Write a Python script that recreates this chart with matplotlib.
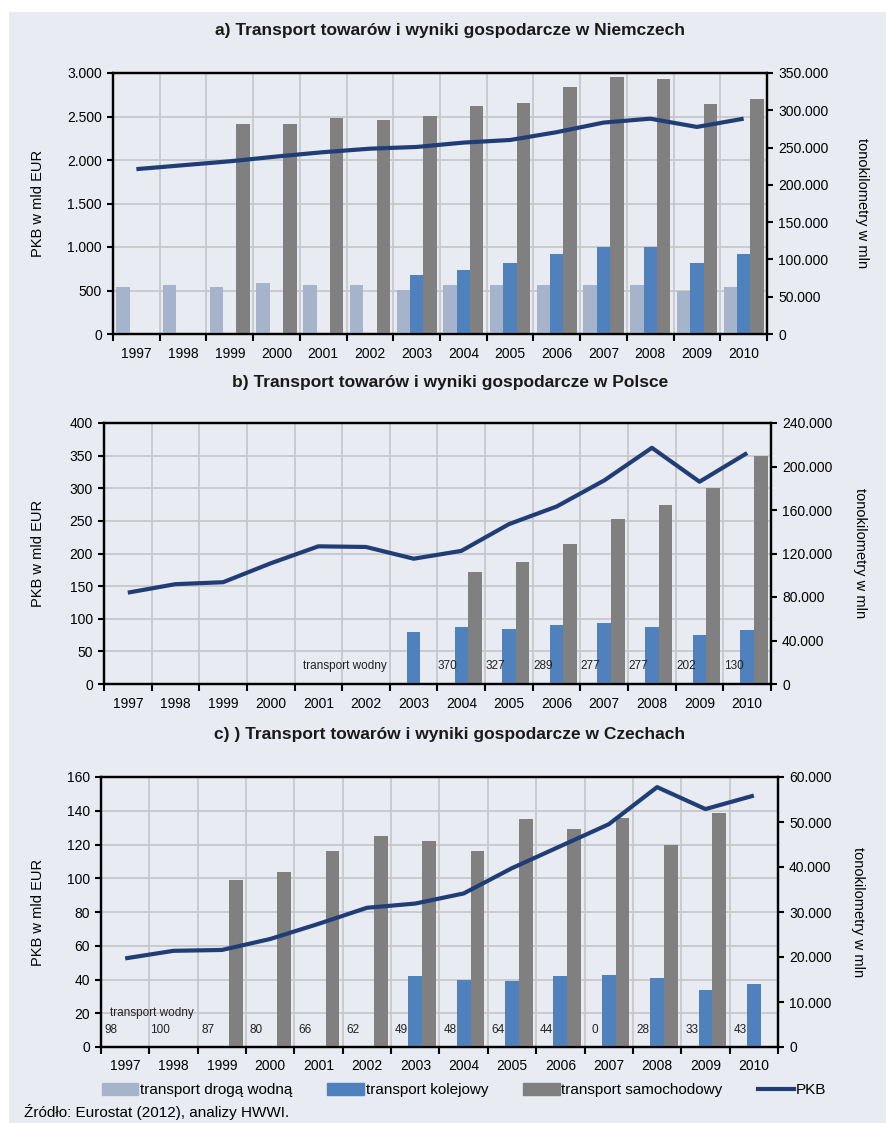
import matplotlib
matplotlib.use("Agg")
import matplotlib.pyplot as plt
import matplotlib.ticker as mticker
import matplotlib.patches as mpatches
import matplotlib.lines as mlines
import matplotlib.transforms as mtransforms
import numpy as np

plt.rcParams['font.family'] = ['Liberation Sans', 'DejaVu Sans']

nan = np.nan
years = [str(y) for y in range(1997, 2011)]

# a) Niemcy - tonokilometry w mln (prawa oś), PKB w mld EUR (lewa oś)
de_water = [63600, 65900, 63600, 68300, 65900, 65900, 58900, 65900, 65900, 65900, 65900, 65900, 57200, 63600]
de_rail = [nan, nan, nan, nan, nan, nan, 79300, 86300, 95700, 107300, 116700, 116700, 95700, 107300]
de_road = [nan, nan, 281200, 281200, 289300, 287000, 291700, 305700, 310300, 331300, 344200, 341800, 308000, 315000]
de_gdp = [1895, 1940, 1985, 2040, 2090, 2130, 2150, 2200, 2230, 2320, 2430, 2475, 2380, 2475]

# b) Polska
pl_water = [nan, nan, nan, nan, nan, nan, nan, 370, 327, 289, 277, 277, 202, 130]
pl_rail = [nan, nan, nan, nan, nan, nan, 48000, 52800, 51000, 54000, 55800, 52800, 45000, 49200]
pl_road = [nan, nan, nan, nan, nan, nan, nan, 102600, 112200, 128400, 151800, 164400, 180000, 210000]
pl_gdp = [140, 153, 156, 185, 211, 210, 192, 204, 245, 272, 312, 362, 310, 354]

# c) Czechy
cz_water = [98, 100, 87, 80, 66, 62, 49, 48, 64, 44, 0, 28, 33, 43]
cz_rail = [nan, nan, nan, nan, nan, nan, 15750, 15000, 14600, 15750, 16100, 15400, 12750, 13900]
cz_road = [nan, nan, 37100, 39000, 43500, 46900, 45750, 43500, 50600, 48400, 51000, 45000, 52100, nan]
cz_gdp = [52.5, 57, 57.5, 64, 73, 82.5, 85, 91, 106, 119, 132, 154, 141, 149]

BG = '#e8ebf1'
C_WATER = '#a6b4cb'
C_RAIL = '#4f81bd'
C_ROAD = '#808080'
C_GDP = '#213d76'
GRID = '#c6c8cc'

W, H = 886, 1123


def dots(v, pos):
    return f"{int(round(v)):,}".replace(",", ".")


def panel(box, title, title_y, water, rail, road, gdp, gmax, gstep, tmax, tstep,
          lab_l, lab_r, wlabels=False, wl_pos=None, wl_y=None):
    x0, y0, x1, y1 = box
    ax = fig.add_axes([x0 / W, 1 - y1 / H, (x1 - x0) / W, (y1 - y0) / H])
    ax.set_facecolor(BG)
    axb = ax.twinx()
    x = np.arange(len(years))
    w = 1 / 3.5
    axb.bar(x - w, water, w, color=C_WATER)
    axb.bar(x, rail, w, color=C_RAIL)
    axb.bar(x + w, road, w, color=C_ROAD)
    # linia PKB rysowana nad słupkami, ale w skali lewej osi
    axb.plot(x, gdp, color=C_GDP, lw=3.0, transform=ax.transData, zorder=5,
             solid_capstyle='butt')
    ax.set_xlim(-0.5, len(years) - 0.5)
    ax.set_ylim(0, gmax)
    axb.set_ylim(0, tmax)
    ax.set_yticks(np.arange(0, gmax + gstep / 2, gstep))
    axb.set_yticks(np.arange(0, tmax + tstep / 2, tstep))
    ax.yaxis.set_major_formatter(mticker.FuncFormatter(dots))
    axb.yaxis.set_major_formatter(mticker.FuncFormatter(dots))
    ax.set_xticks(x)
    ax.set_xticklabels(years)
    ax.set_xticks(np.arange(-0.5, len(years)), minor=True)
    ax.tick_params(axis='x', which='major', length=0, labelsize=10, pad=9)
    ax.tick_params(axis='x', which='minor', length=5, width=1.5, direction='out')
    ax.tick_params(axis='y', length=4, width=1.5, labelsize=10, pad=4)
    axb.tick_params(axis='y', length=4, width=1.5, labelsize=10, pad=4)
    ax.grid(True, axis='y', color=GRID, lw=1.3)
    ax.grid(True, axis='x', which='minor', color=GRID, lw=1.3)
    ax.set_axisbelow(True)
    for a in (ax, axb):
        for s in a.spines.values():
            s.set_color('black')
            s.set_linewidth(1.6)
    fig.text(450 / W, 1 - title_y / H, title, ha='center', va='center',
             fontsize=12.5, fontweight='bold', color='#1a1a1a')
    fig.text(lab_l / W, 1 - (y0 + y1) / 2 / H, 'PKB w mld EUR', rotation=90,
             ha='center', va='center', fontsize=10.5)
    fig.text(lab_r / W, 1 - (y0 + y1) / 2 / H, 'tonokilometry w mln', rotation=270,
             ha='center', va='center', fontsize=10.5)
    if wlabels:
        tr = mtransforms.blended_transform_factory(axb.transData, axb.transAxes)
        for i, v in enumerate(water):
            if not np.isnan(v):
                axb.text(i - w, wl_y, f"{int(v)}", transform=tr, ha='center',
                         va='center', fontsize=8.5, color='#222222')
        axb.text(wl_pos[0], wl_pos[1], 'transport wodny', transform=tr, ha='center',
                 va='center', fontsize=8.5, color='#222222')
    return ax, axb


fig = plt.figure(figsize=(W / 100, H / 100), dpi=100)
fig.patch.set_facecolor('white')
fig.add_artist(mpatches.Rectangle((9 / W, 0), 1, 1 - 12 / H, transform=fig.transFigure,
                                  facecolor=BG, edgecolor='none', zorder=-10))

panel((113, 73, 767, 334), 'a) Transport towarów i wyniki gospodarcze w Niemczech', 31,
      de_water, de_rail, de_road, de_gdp, 3000, 500, 350000, 50000, 38, 862)
panel((104, 423, 771, 684), 'b) Transport towarów i wyniki gospodarcze w Polsce', 383,
      pl_water, pl_rail, pl_road, pl_gdp, 400, 50, 240000, 40000, 38, 860,
      wlabels=True, wl_pos=(4.55, 0.07), wl_y=0.07)
panel((101, 777, 778, 1047), 'c) ) Transport towarów i wyniki gospodarcze w Czechach', 735,
      cz_water, cz_rail, cz_road, cz_gdp, 160, 20, 60000, 10000, 38, 858,
      wlabels=True, wl_pos=(0.55, 0.125), wl_y=0.063)

handles = [mpatches.Patch(color=C_WATER), mpatches.Patch(color=C_RAIL),
           mpatches.Patch(color=C_ROAD), mlines.Line2D([], [], color=C_GDP, lw=3.0)]
labels = ['transport drogą wodną', 'transport kolejowy', 'transport samochodowy', 'PKB']
fig.legend(handles, labels, loc='center', bbox_to_anchor=(464 / W, 1 - 1090 / H), ncol=4,
           frameon=False, fontsize=11, handlelength=2.4, handleheight=0.9,
           handletextpad=0.1, columnspacing=2.3)

fig.text(24 / W, 1 - 1112 / H, 'Źródło: Eurostat (2012), analizy HWWI.', ha='left',
         va='center', fontsize=11)

fig.savefig('out.png', dpi=100, facecolor=fig.get_facecolor())
